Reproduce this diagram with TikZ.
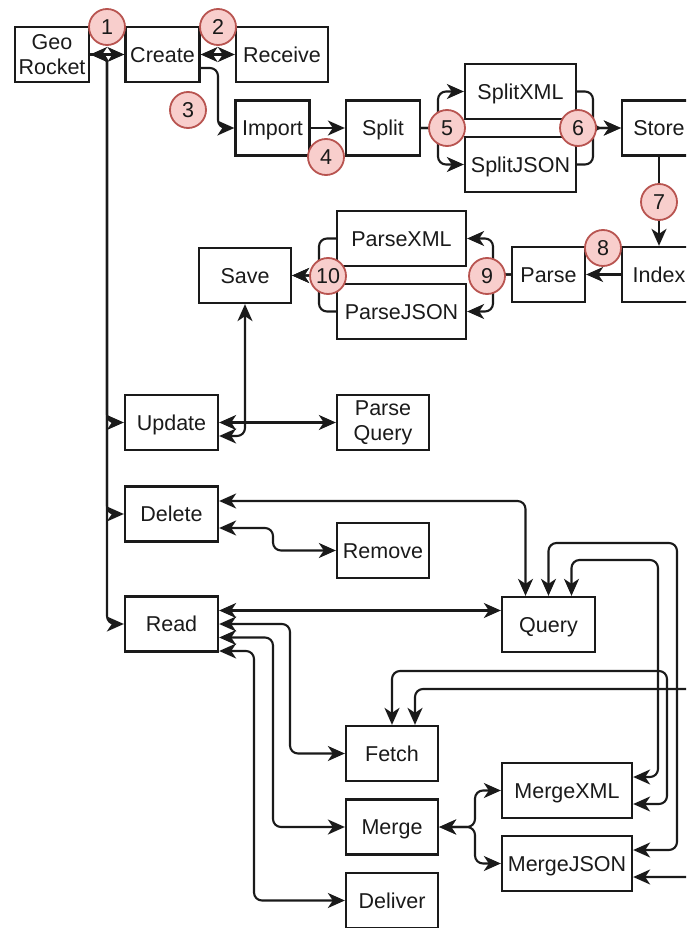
\documentclass[tikz,border=0pt]{standalone}
\usepackage{fontspec}
\setmainfont{Liberation Sans}
\usetikzlibrary{arrows.meta,calc}
\definecolor{circfill}{HTML}{F8CECC}
\definecolor{circdraw}{HTML}{B85450}
\definecolor{ink}{HTML}{1A1A1A}
\tikzset{
 boxbase/.style={draw=ink, line width=2.3pt, minimum height=55pt, inner sep=0pt, font=\fontsize{21.5}{25}\selectfont, align=center, text=ink},
 box/.style={boxbase, text height=19.8pt, text depth=4.3pt},
 arr/.tip={Stealth[length=17pt,width=15pt,inset=5pt]},
 dbl/.style={draw=ink, line width=2.1pt, rounded corners=8pt, arr-arr},
 one/.style={draw=ink, line width=2.1pt, rounded corners=8pt, -arr},
 num/.style={circle, draw=circdraw, fill=circfill, line width=1.8pt, minimum size=36pt, inner sep=0pt, font=\fontsize{21.5}{25}\selectfont, text=ink, text height=19.8pt, text depth=4.3pt},
}
\begin{document}
\begin{tikzpicture}[x=1pt,y=-1pt]
\useasboundingbox (0,0) rectangle (686,928);
\clip (0,0) rectangle (686,928);
% boxes
\node[boxbase,minimum width=74pt] (geo) at (52,54.5) {Geo\\Rocket};
\node[box,minimum width=74pt] (create) at (162.5,54.5) {Create};
\node[box,minimum width=92pt] (receive) at (282,54.5) {Receive};
\node[box,minimum width=74pt] (import) at (272.5,128) {Import};
\node[box,minimum width=74pt] (split) at (383,128) {Split};
\node[box,minimum width=111pt] (splitxml) at (520.5,91.5) {SplitXML};
\node[box,minimum width=111pt] (splitjson) at (520.5,164.5) {SplitJSON};
\node[box,minimum width=74pt] (store) at (659,128) {Store};
\node[box,minimum width=74pt] (index) at (659,274.5) {Index};
\node[box,minimum width=73pt] (parse) at (548.5,274.5) {Parse};
\node[box,minimum width=129pt] (parsexml) at (401.5,238.5) {ParseXML};
\node[box,minimum width=129pt] (parsejson) at (401.5,311.5) {ParseJSON};
\node[box,minimum width=92pt] (save) at (245,275.5) {Save};
\node[box,minimum width=93pt] (update) at (171.5,422.5) {Update};
\node[boxbase,minimum width=92pt] (parsequery) at (383,422.5) {Parse\\Query};
\node[box,minimum width=93pt] (delete) at (171.5,514) {Delete};
\node[box,minimum width=92pt] (remove) at (383,550.5) {Remove};
\node[box,minimum width=93pt] (read) at (171.5,624) {Read};
\node[box,minimum width=93pt] (query) at (548.5,624.5) {Query};
\node[box,minimum width=92pt] (fetch) at (392,753.5) {Fetch};
\node[box,minimum width=92pt] (merge) at (392,827) {Merge};
\node[box,minimum width=92pt] (deliver) at (392,900.5) {Deliver};
\node[box,minimum width=130pt] (mergexml) at (567,790.5) {MergeXML};
\node[box,minimum width=130pt] (mergejson) at (567,863.5) {MergeJSON};
% connectors
\draw[dbl] (geo.east) -- (create.west);
\draw[dbl] (create.east) -- (receive.west);
\draw[one] ($(create.east)+(0,13.5)$) -- (218,68) -- (218,128) -- (import.west);
\draw[one] (import.east) -- (split.west);
\draw[one] (split.east) -- (438,128) -- (438,91.5) -- (splitxml.west);
\draw[one] (split.east) -- (438,128) -- (438,164.5) -- (splitjson.west);
\draw[one] (splitxml.east) -- (593,91.5) -- (593,128) -- (store.west);
\draw[one] (splitjson.east) -- (593,164.5) -- (593,128) -- (store.west);
\draw[one] (store.south) -- (index.north);
\draw[one] (index.west) -- (parse.east);
\draw[one] (parse.west) -- (493,274.5) -- (493,238.5) -- (parsexml.east);
\draw[one] (parse.west) -- (493,274.5) -- (493,311.5) -- (parsejson.east);
\draw[one] (parsexml.west) -- (319,238.5) -- (319,275.5) -- (save.east);
\draw[one] (parsejson.west) -- (319,311.5) -- (319,275.5) -- (save.east);
% trunk from GeoRocket
\draw[one] (geo.east) -- (107,54.5) -- (107,422.5) -- (update.west);
\draw[one] (geo.east) -- (107,54.5) -- (107,514) -- (delete.west);
\draw[one] (geo.east) -- (107,54.5) -- (107,624) -- (read.west);
% update
\draw[dbl] ($(update.east)+(0,13.5)$) -- (245,436) -- (save.south);
\draw[dbl] (update.east) -- (parsequery.west);
% delete
\draw[dbl] ($(delete.east)+(0,-13)$) -- (525.5,501) -- ($(query.north)+(-23,0)$);
\draw[dbl] ($(delete.east)+(0,14)$) -- (273,528) -- (273,550.5) -- (remove.west);
% read
\draw[dbl] ($(read.east)+(0,-13.5)$) -- ($(query.west)+(0,-14)$);
\draw[dbl] (read.east) -- (290,624) -- (290,753.5) -- (fetch.west);
\draw[dbl] ($(read.east)+(0,13.5)$) -- (273,637.5) -- (273,827) -- (merge.west);
\draw[dbl] ($(read.east)+(0,27)$) -- (254,651) -- (254,900.5) -- (deliver.west);
% query loops
\draw[dbl] ($(query.north)+(23,0)$) -- (571.5,560) -- (658,560) -- (658,777) -- ($(mergexml.east)+(0,-13.5)$);
\draw[dbl] (query.north) -- (548.5,543) -- (677,543) -- (677,850) -- ($(mergejson.east)+(0,-13.5)$);
% fetch loops
\draw[dbl] (fetch.north) -- (392,671) -- (667,671) -- (667,804) -- ($(mergexml.east)+(0,13.5)$);
\draw[dbl] ($(fetch.north)+(23,0)$) -- (415,689) -- (694,689) -- (694,877) -- ($(mergejson.east)+(0,13.5)$);
% merge
\draw[dbl] (merge.east) -- (475,827) -- (475,790.5) -- (mergexml.west);
\draw[dbl] (merge.east) -- (475,827) -- (475,863.5) -- (mergejson.west);
% numbered markers
\node[num] (n1) at (107,27) {1};
\node[num] (n2) at (218,27) {2};
\node[num] (n3) at (188,110) {3};
\node[num] (n4) at (326,157) {4};
\node[num] (n5) at (447,128) {5};
\node[num] (n6) at (578,128) {6};
\node[num] (n7) at (659,202) {7};
\node[num] (n8) at (603,248) {8};
\node[num] (n9) at (487,276) {9};
\node[num] (n10) at (328,276) {10};
\end{tikzpicture}
\end{document}
